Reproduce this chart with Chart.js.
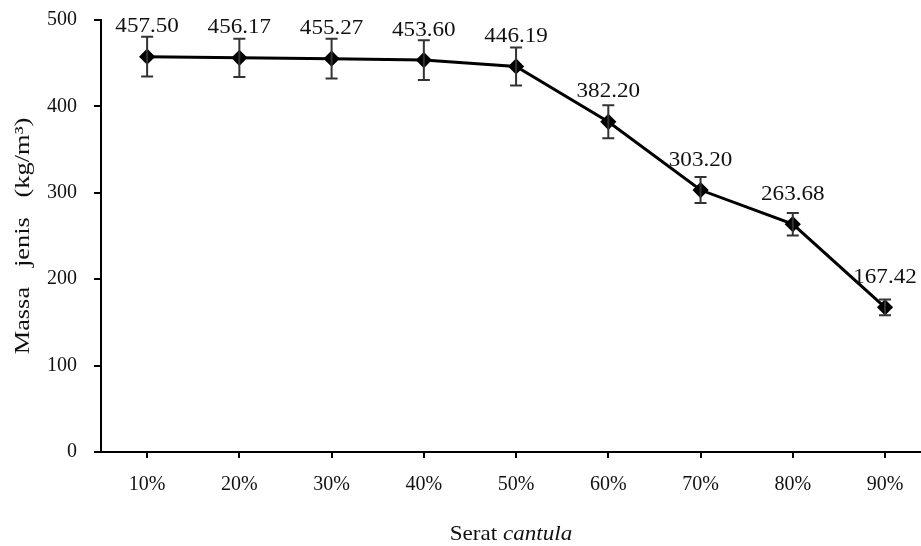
<!DOCTYPE html>
<html lang="id">
<head>
    <meta charset="UTF-8">
    <title>Massa jenis - Serat cantula</title>
    <script src="https://cdn.jsdelivr.net/npm/chart.js"></script>
    <style>
        html, body { margin: 0; padding: 0; background: #fff; }
        #wrap { width: 921px; height: 546px; }
    </style>
</head>
<body>
    <div id="wrap"><canvas id="chart" width="921" height="546"></canvas></div>

    <script>
        // data
        const categories = ['10%', '20%', '30%', '40%', '50%', '60%', '70%', '80%', '90%'];
        const massaJenis = [457.50, 456.17, 455.27, 453.60, 446.19, 382.20, 303.20, 263.68, 167.42];
        const galat = [23, 22, 23, 23, 22, 19, 15, 13, 9];
        const valueLabels = ['457.50', '456.17', '455.27', '453.60', '446.19', '382.20', '303.20', '263.68', '167.42'];
        const yTicks = [0, 100, 200, 300, 400, 500];

        const serif = "'Liberation Serif', 'Times New Roman', serif";

        // teks yang sedikit melebar (seperti gambar asli)
        function wideText(ctx, text, x, y, sx) {
            ctx.save();
            ctx.translate(x, y);
            ctx.scale(sx, 1);
            ctx.fillText(text, 0, 0);
            ctx.restore();
        }

        // error bar + label nilai + judul sumbu
        const extras = {
            id: 'extras',
            afterDatasetsDraw(chart) {
                const ctx = chart.ctx;
                const y = chart.scales.y;
                const meta = chart.getDatasetMeta(0);
                ctx.save();
                ctx.strokeStyle = '#333';
                ctx.lineWidth = 2;
                meta.data.forEach((pt, i) => {
                    const top = y.getPixelForValue(massaJenis[i] + galat[i]);
                    const bot = y.getPixelForValue(massaJenis[i] - galat[i]);
                    ctx.beginPath();
                    ctx.moveTo(pt.x, top); ctx.lineTo(pt.x, bot);
                    ctx.moveTo(pt.x - 6, top); ctx.lineTo(pt.x + 6, top);
                    ctx.moveTo(pt.x - 6, bot); ctx.lineTo(pt.x + 6, bot);
                    ctx.stroke();
                });
                ctx.fillStyle = '#111';
                ctx.font = '21px ' + serif;
                ctx.textAlign = 'center';
                ctx.textBaseline = 'middle';
                meta.data.forEach((pt, i) => {
                    wideText(ctx, valueLabels[i], pt.x, pt.y - 30, 1.1);
                });

                // judul sumbu x: "Serat cantula"
                const area = chart.chartArea;
                const cx = (area.left + area.right) / 2;
                const sx = 1.1;
                ctx.textBaseline = 'alphabetic';
                ctx.textAlign = 'left';
                ctx.font = 'italic 21px ' + serif;
                const wb = ctx.measureText('cantula').width * sx;
                ctx.font = '21px ' + serif;
                const wa = ctx.measureText('Serat ').width * sx;
                const x0 = cx - (wa + wb) / 2;
                wideText(ctx, 'Serat ', x0, 540, sx);
                ctx.font = 'italic 21px ' + serif;
                wideText(ctx, 'cantula', x0 + wa, 540, sx);

                // judul sumbu y
                ctx.translate(29, (area.top + area.bottom) / 2);
                ctx.rotate(-Math.PI / 2);
                ctx.font = '22px ' + serif;
                ctx.textAlign = 'center';
                wideText(ctx, 'Massa   jenis   (kg/m³)', 0, 0, 1.2);
                ctx.restore();
            }
        };

        new Chart(document.getElementById('chart'), {
            type: 'line',
            data: {
                datasets: [{
                    data: massaJenis.map((v, i) => ({ x: i + 1, y: v })),
                    borderColor: '#000',
                    backgroundColor: '#000',
                    borderWidth: 3,
                    pointStyle: 'rectRot',
                    pointRadius: 6,
                    pointBackgroundColor: '#000',
                    pointBorderColor: '#000',
                    tension: 0
                }]
            },
            options: {
                responsive: false,
                animation: false,
                layout: { autoPadding: false, padding: { top: 20, right: 0, left: 0, bottom: 0 } },
                plugins: { legend: { display: false }, tooltip: { enabled: false } },
                scales: {
                    x: {
                        type: 'linear',
                        bounds: 'data',
                        min: 0.5,
                        max: 9.39,
                        afterBuildTicks: s => { s.ticks = categories.map((c, i) => ({ value: i + 1 })); },
                        afterFit: s => { s.height = 94; s.paddingRight = 0; s.paddingLeft = 0; },
                        grid: { drawOnChartArea: false, color: '#000', lineWidth: 2, tickLength: 6 },
                        border: { color: '#000', width: 2 },
                        ticks: {
                            color: '#111',
                            padding: 15,
                            maxRotation: 0,
                            autoSkip: false,
                            font: { family: serif, size: 20 },
                            callback: v => categories[Math.round(v) - 1]
                        }
                    },
                    y: {
                        min: 0,
                        max: 500,
                        afterBuildTicks: s => { s.ticks = yTicks.map(v => ({ value: v })); },
                        afterFit: s => { s.width = 101; s.paddingTop = 0; s.paddingBottom = 0; },
                        grid: { drawOnChartArea: false, color: '#000', lineWidth: 2, tickLength: 7 },
                        border: { color: '#000', width: 2 },
                        ticks: {
                            color: '#111',
                            padding: 17,
                            font: { family: serif, size: 20 }
                        }
                    }
                }
            },
            plugins: [extras]
        });
    </script>
</body>
</html>
